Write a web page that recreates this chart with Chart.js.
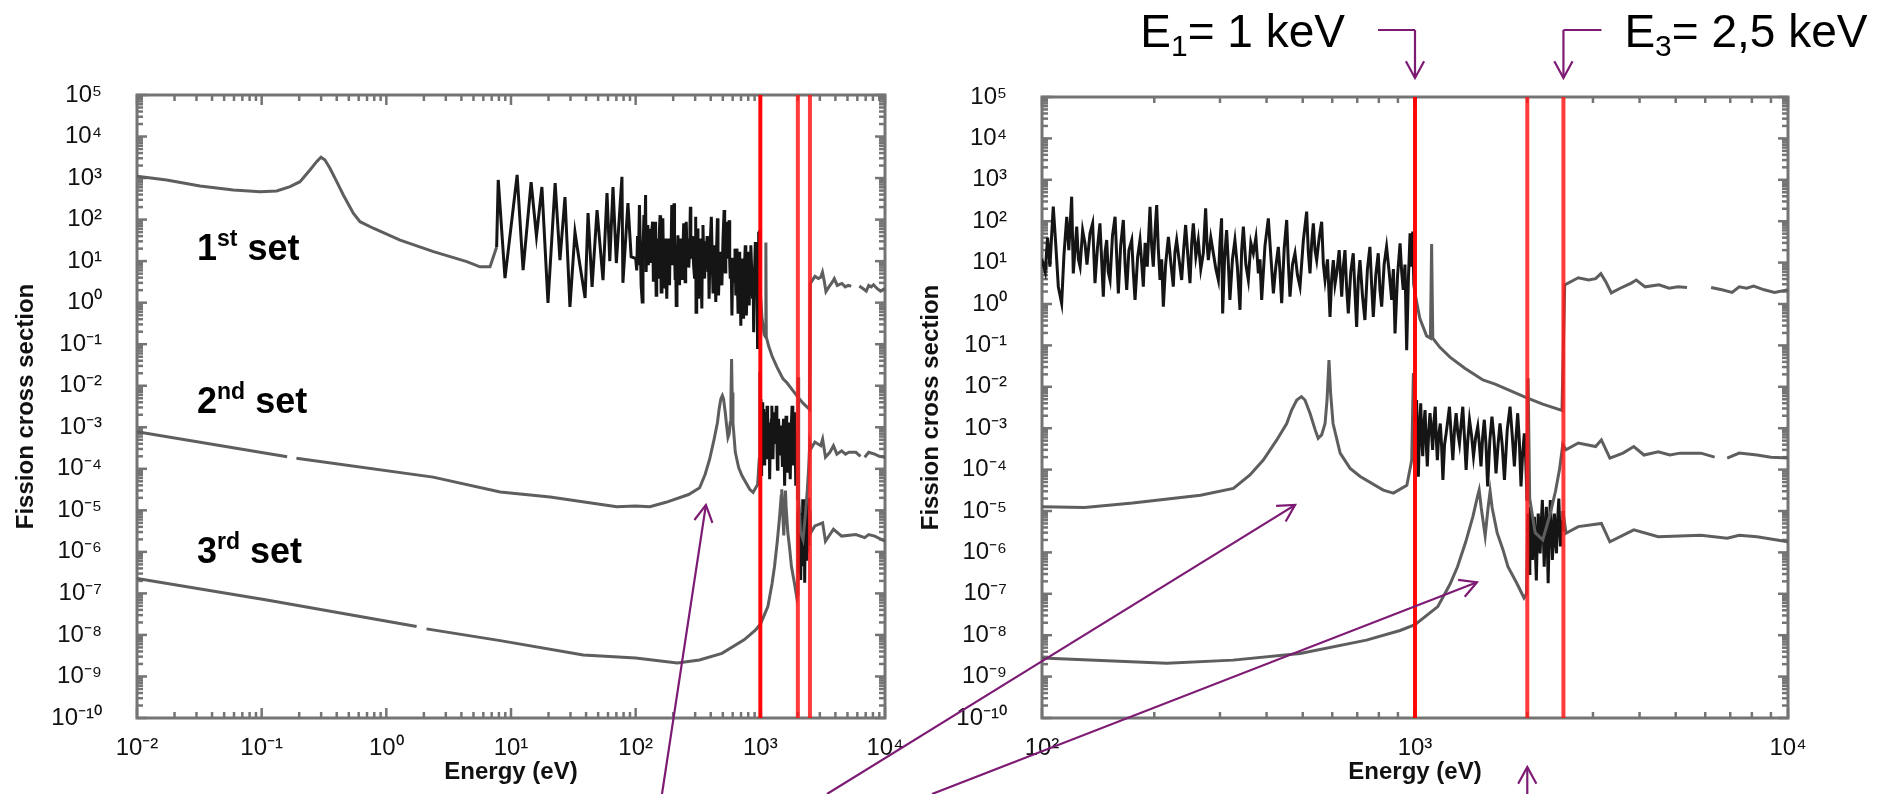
<!DOCTYPE html>
<html>
<head>
<meta charset="utf-8">
<script src="https://cdn.jsdelivr.net/npm/chart.js@4.4.1/dist/chart.umd.min.js"></script>
<style>
  html, body { margin: 0; padding: 0; background: #fff; }
  #wrap { position: relative; width: 1900px; height: 794px; overflow: hidden; background: #fff; }
  canvas { position: absolute; top: 0; }
  #left { left: 0; }
  #right { left: 900px; }
  #notes { position: absolute; left: 0; top: 0; }
</style>
</head>
<body>
<div id="wrap">
  <canvas id="left" width="920" height="794"></canvas>
  <canvas id="right" width="1000" height="794"></canvas>
  <svg id="notes" width="1900" height="794" xmlns="http://www.w3.org/2000/svg"></svg>
</div>
<script>
// Fission cross section of three resonance parameter sets, [energy (eV), cross section]
const set1 = [
  [0.01,1100],[0.0173,900],[0.032,644],[0.0592,516],[0.097,470],[0.132,488],[0.169,620],[0.203,818],
  [0.244,1560],[0.276,2480],[0.299,3170],[0.322,2720],[0.353,1720],[0.40,818],[0.452,391],[0.543,142],
  [0.615,89],[0.786,62],[1.29,32],[2.39,16.9],[4.42,9.7],[5.64,7.3],[6.79,7.3],[7.67,22],
  [7.9,900],[8.95,3.9],[11.2,1190],[12.5,6.1],[14.5,800],[16.0,40],[17.7,610],[19.8,0.98],[22.6,760],
  [24.7,10.6],[27.1,350],[29.7,0.79],[32.6,50],[35.5,9],[39.3,1.3],[41.5,144],[44.7,2.4],[49.0,170],
  [54.7,3.5],[58.9,437],[62.0,10],[65.8,610],[70.0,9],[77.6,1070],[79.0,3.0],[86.7,250],[92.0,12.8],
  [100,11.5],[102,6.0],[103.5,40],[105,7.96],[107.2,224],[108.8,30],[110.6,2.62],[112.9,1.04],
  [114.5,15],[116.5,128],[118,20],[120.1,391],[121.3,5.5],[123.9,74],[125.2,12],[126.5,8.0],[128.5,60],
  [130.4,29],[132,9],[134.5,51],[136.7,89],[138.7,3.2],[140.8,22],[143.0,89],[144.5,12],[146.0,1.5],
  [147.6,18],[149.1,35],[150.5,6],[152.2,3.8],[154.5,45],[157.0,128],[158.6,14],[160.2,1.81],
  [162.5,25],[165.2,107],[167,9],[168.7,2.18],[171,20],[174.0,35],[175.7,6],[177.6,1.25],[180.5,14],
  [183.1,35],[185,10],[186.9,2.62],[189,30],[191.5,8],[194.8,224],[196.8,25],[198.8,8.0],[201,60],
  [203.0,246],[205,22],[207.2,3.8],[209.3,12],[211.5,0.86],[214.5,9],[218.2,42],[221.5,10],
  [224.9,2.62],[227.2,18],[229.6,35],[233,12],[236.8,3.8],[239.7,20],[242.7,81],[246,15],[249.3,3.2],
  [252,30],[254.5,89],[258.5,14],[262.4,35],[266.5,7],[270.7,16.8],[272.6,60],[274.6,205],[277,28],
  [279.2,11.5],[283.5,40],[288,16.8],[292.5,7],[297,3.8],[300,30],[303,117],[305,0.59],[308.8,14],
  [312.6,61],[316,9],[319,1.25],[324,12],[329,35],[334,8],[339.5,0.72],[343,20],[346.6,74],[352,9],
  [357.4,3.8],[363,30],[368.6,16.8],[374.5,40],[380.2,5.5],[384,12],[388.1,1.25],[396,25],[404.4,117],
  [410.8,14],[417.2,1.81],[423.5,8],[430.1,24],[434.6,6],[439.1,1.04],[446,22],[452.9,107],[457.5,10],
  [462.2,1.5],[469.5,9],[476.7,16.8],[484,5],[491.7,2.62],[502,35],[512.3,170],[517.6,18],[523,5.5],
  [528.4,30],[533.9,89],[539.4,20],[545,11.5],[553.5,40],[562.1,97],[568,9],[573.8,3.8],[582.7,12],
  [591.8,0.49],[597.8,4],[604,11.5],[610.3,3],[616.6,5.5],[626.2,20],[636,1.5],[642.4,8],[649,20],
  [655.7,2.5],[662.5,0.59],[672.7,6],[683,16.8],[690.2,2],[697.5,0.28],[704.7,4],[712,11.5],[723,1.6],
  [734,0.41],[745.5,7],[757,24],[765,3],[773,0.49],[785,5],[797,16.8],[805.5,2.2],[814,0.86],
  [826.5,9],[839,24],[852.5,6],[866,1.25],[875,7],[884,0.195],[898,5],[912,29],[921,6],[930,2.18],
  [940,9],[950,0.077],[960,4],[970,51],[978,8],[986,56],[993,3],[1000,1.81],
  [1030,0.45],[1074,0.17],[1100,0.15],[1108,28],[1116,0.15],[1166,0.09],[1241,0.052],[1360,0.028],
  [1521,0.0146],[1640,0.0116],[1995,0.0054],[2200,0.0038],[2478,0.0027],
  [2520,2.9],[2740,4.3],[2920,3.8],[3050,4.1],[3150,5.4],[3250,3.4],[3360,1.85],[3550,2.4],[3800,3.2],
  [3920,3.8],[4140,2.6],[4510,2.9],[4800,2.4],[5070,2.6],[5360,2.5],[5700,null],[6220,2.5],[6650,2.2],
  [7080,1.9],[7400,2.6],[7750,2.4],[8090,2.7],[8630,2.2],[9210,1.9],[10000,2.2]
];
const set2 = [
  [0.01,7.8e-4],[0.16,1.95e-4],[0.175,null],[0.19,1.8e-4],[2.37,6.3e-5],[8.2,2.75e-5],[20.6,2.1e-5],
  [70.5,1.22e-5],[100,1.27e-5],[130,1.22e-5],[175,1.56e-5],[266,2.4e-5],[326,3.5e-5],[361,7.4e-5],
  [392,1.7e-4],[426,5.2e-4],[453,1.3e-3],[467,2.75e-3],[482,4.8e-3],[496,5.8e-3],[507,4.8e-3],
  [523,2.3e-3],[540,9.1e-4],[550,5.7e-4],[562,6.9e-4],[574,1.3e-3],[581,4.8e-3],[588,0.044],
  [594,6.9e-3],[603,1.3e-3],[630,2.5e-4],[670,1.07e-4],[713,6.8e-5],[822,3.2e-5],
  [875,2.7e-5],[951,4.2e-5],[980,1.7e-4],[990,0.0215],
  [1003,1.5e-3],[1010,4.8e-3],[1015,8e-4],[1021,6.7e-5],[1028,9e-4],[1036,4.0e-3],[1042,6e-4],
  [1049,2.1e-4],[1056,1.2e-3],[1064,2.75e-3],[1071,5e-4],[1079,1.2e-4],[1088,8e-4],[1097,2.3e-3],
  [1106,9e-4],[1115,3.0e-4],[1124,1.4e-3],[1133,3.3e-3],[1140,6e-4],[1148,1.7e-4],[1158,7e-4],
  [1169,1.3e-3],[1178,4e-4],[1188,5.6e-5],[1200,4e-4],[1212,7.5e-4],[1224,1.5e-3],[1237,3.3e-3],
  [1250,7e-4],[1263,1.7e-4],[1276,9e-4],[1289,2.3e-3],[1302,8e-4],[1316,4.3e-4],[1329,1.2e-3],
  [1343,3.3e-3],[1357,6e-4],[1371,9.8e-5],[1385,5e-4],[1400,1.6e-3],[1417,7e-4],[1435,2.1e-4],
  [1454,6e-4],[1473,1.1e-3],[1488,4e-4],[1503,1.2e-4],[1518,6e-4],[1534,1.6e-3],[1550,4e-4],
  [1566,3.9e-5],[1587,5e-4],[1608,1.9e-3],[1628,6e-4],[1649,8.1e-5],[1670,4e-4],[1690,1.3e-3],
  [1713,4e-4],[1737,5.6e-5],[1767,9e-4],[1798,3.3e-3],[1822,7e-4],[1847,1.2e-4],[1866,6e-4],
  [1885,2.3e-3],[1904,5e-4],[1924,3.9e-5],[1944,2.5e-4],[1964,7.5e-4],[1980,2e-4],[1997,1.8e-5],
  [2010,0.016],[2030,2e-5],[2100,3e-6],[2200,2e-6],[2300,8e-6],[2380,3e-5],[2440,1e-4],[2490,4e-4],
  [2540,3.0e-4],[2740,4.4e-4],[3050,3.6e-4],[3160,5.2e-4],[3330,1.9e-4],[3610,2.5e-4],[3860,3.6e-4],
  [4110,2.25e-4],[4490,2.7e-4],[4820,2.25e-4],[5140,2.5e-4],[5840,2.5e-4],[6360,2.0e-4],[6600,null],
  [6870,1.9e-4],[7400,2.5e-4],[8260,2.25e-4],[9000,2.0e-4],[10000,1.9e-4]
];
const set3 = [
  [0.01,2.3e-7],[0.11,6.9e-8],[1.75,1.6e-8],[1.9,null],[2.1,1.4e-8],[8.2,7.3e-9],[38,3.3e-9],
  [100,2.8e-9],[216,2.1e-9],[325,2.5e-9],[492,3.6e-9],[741,7.6e-9],[912,1.3e-8],[1000,1.8e-8],
  [1151,4.9e-8],[1241,1.7e-7],[1300,4.5e-7],[1368,1.8e-6],[1429,7.2e-6],[1470,2.2e-5],[1486,3.2e-5],
  [1505,1.2e-5],[1542,2.5e-6],[1570,1.2e-5],[1590,3.0e-5],[1610,1.2e-5],[1660,3e-6],[1722,1.15e-6],
  [1775,4.5e-7],[1875,1.8e-7],[1960,8e-8],[1990,1e-7],
  [2003,3e-6],[2010,8.7e-6],[2018,1.5e-6],[2025,3.1e-7],[2032,3e-6],[2040,1.26e-5],[2052,2e-6],
  [2065,6.6e-7],[2078,4e-6],[2090,7.2e-6],[2102,1.2e-6],[2115,2.1e-7],[2128,2.5e-6],[2140,8.7e-6],
  [2152,3e-6],[2165,9.5e-7],[2180,5e-6],[2195,1.85e-5],[2208,3e-6],[2220,4.5e-7],[2235,3e-6],
  [2250,1.26e-5],[2262,2e-6],[2275,1.8e-7],[2290,3e-6],[2305,1.85e-5],[2320,4e-6],[2335,6.6e-7],
  [2350,2.5e-6],[2365,8.7e-6],[2380,2e-6],[2395,9.5e-7],[2412,6e-6],[2430,2.0e-5],[2442,5e-6],
  [2455,1.4e-6],[2468,6e-6],[2480,3.5e-6],[2492,1e-5],
  [2540,2.9e-6],[2740,4.2e-6],[3160,5.0e-6],[3330,1.8e-6],[3860,3.5e-6],[4490,2.4e-6],[5840,2.6e-6],
  [6870,2.2e-6],[7400,2.6e-6],[8260,2.4e-6],[10000,1.8e-6]
];

// Resolved-resonance energy window of each set (eV), drawn darker
const resolvedRange = [[7.5, 1000], [1000, 2000], [2000, 2500]];

// Energy group boundaries (eV)
const boundaryE = [1000, 2000, 2500];
const boundaryColors = ['rgba(255,0,0,0.97)', 'rgba(255,25,25,0.85)', 'rgba(255,25,25,0.85)'];

// Decade exponents used for the axis labels
const leftXExp = [-2, -1, 0, 1, 2, 3, 4];
const rightXExp = [2, 3, 4];
const yExp = [5, 4, 3, 2, 1, 0, -1, -2, -3, -4, -5, -6, -7, -8, -9, -10];
const Y_MIN = 1e-10, Y_MAX = 1e5;

const FONT = "'Liberation Sans', Arial, Helvetica, sans-serif";
const PURPLE = '#7d1b74';
const SUP = {'-':'\u207B','0':'\u2070','1':'\u00B9','2':'\u00B2','3':'\u00B3','4':'\u2074',
             '5':'\u2075','6':'\u2076','7':'\u2077','8':'\u2078','9':'\u2079'};
const powLabel = v => '10' + String(Math.round(Math.log10(v))).split('').map(c => SUP[c]).join('');

// Frame with inward major/minor tick marks on all four sides
const framePlugin = {
  id: 'frame',
  beforeDatasetsDraw(chart) {
    const { ctx, chartArea: a, scales: { x, y } } = chart;
    const marks = sc => {
      const lo = Math.round(Math.log10(sc.min)), hi = Math.round(Math.log10(sc.max));
      const out = [];
      for (let d = lo; d < hi; d++) for (let m = 1; m < 10; m++) out.push({ v: m * Math.pow(10, d), major: m === 1 });
      out.push({ v: Math.pow(10, hi), major: true });
      return out;
    };
    const seg = (x1, y1, x2, y2) => { ctx.beginPath(); ctx.moveTo(x1, y1); ctx.lineTo(x2, y2); ctx.stroke(); };
    ctx.save();
    ctx.strokeStyle = '#747474';
    ctx.lineWidth = 2.5;
    for (const t of marks(x)) {
      const px = x.getPixelForValue(t.v), L = t.major ? 10 : 6;
      seg(px, a.bottom, px, a.bottom - L); seg(px, a.top, px, a.top + L);
    }
    for (const t of marks(y)) {
      const py = y.getPixelForValue(t.v), L = t.major ? 10 : 6;
      seg(a.left, py, a.left + L, py); seg(a.right, py, a.right - L, py);
    }
    ctx.lineWidth = 3;
    ctx.strokeRect(a.left, a.top, a.right - a.left, a.bottom - a.top);
    ctx.restore();
  }
};

// Smooth stretches in grey, resolved-resonance windows in near-black
const SMOOTH = '#5e5e5e', DENSE = '#151515';
const curve = (arr, range) => ({
  data: arr.map(([x, y]) => ({ x, y })),
  borderColor: SMOOTH, borderWidth: 3, pointRadius: 0, tension: 0, order: 1, spanGaps: false,
  segment: {
    borderColor: c => (c.p0.parsed.x >= range[0] && c.p1.parsed.x <= range[1]) ? DENSE : SMOOTH
  }
});

function panel(id, o) {
  const bounds = boundaryE.map((e, i) => ({
    data: [{ x: e, y: Y_MIN }, { x: e, y: Y_MAX }],
    borderColor: boundaryColors[i], borderWidth: 4, pointRadius: 0, order: 0
  }));
  const tickFont = { family: FONT, size: 24 };
  const titleFont = { family: FONT, size: 24, weight: 'bold' };
  return new Chart(document.getElementById(id), {
    type: 'line',
    data: { datasets: [...bounds, curve(set1, resolvedRange[0]), curve(set2, resolvedRange[1]), curve(set3, resolvedRange[2])] },
    options: {
      responsive: false, animation: false, devicePixelRatio: 1,
      layout: { padding: { left: 0, top: o.top, right: o.right, bottom: 0 } },
      plugins: { legend: { display: false }, tooltip: { enabled: false } },
      scales: {
        x: {
          type: 'logarithmic', min: o.xmin, max: o.xmax,
          afterFit: s => { s.height = 76; },
          afterBuildTicks: s => { s.ticks = o.xExp.map(e => ({ value: Math.pow(10, e) })); },
          grid: { display: false }, border: { display: false },
          ticks: { callback: powLabel, autoSkip: false, maxRotation: 0, padding: 8, font: tickFont, color: '#111' },
          title: { display: true, text: 'Energy (eV)', font: titleFont, color: '#111', padding: { top: 0, bottom: 7.6 } }
        },
        y: {
          type: 'logarithmic', min: Y_MIN, max: Y_MAX,
          afterFit: s => { s.width = o.yWidth; },
          afterBuildTicks: s => { s.ticks = yExp.map(e => ({ value: Math.pow(10, e) })); },
          grid: { display: false }, border: { display: false },
          ticks: { callback: powLabel, autoSkip: false, padding: 27, font: tickFont, color: '#111' },
          title: { display: true, text: 'Fission cross section', font: titleFont, color: '#111', padding: { top: o.titlePad, bottom: 0 } }
        }
      }
    },
    plugins: [framePlugin]
  });
}

const leftChart = panel('left', { xmin: 1e-2, xmax: 1e4, xExp: leftXExp, top: 95, right: 35, yWidth: 137, titlePad: 11.6 });
const rightChart = panel('right', { xmin: 1e2, xmax: 1e4, xExp: rightXExp, top: 97, right: 112, yWidth: 142, titlePad: 16.6 });

// ---- annotations ----
const svg = document.getElementById('notes');
const NS = 'http://www.w3.org/2000/svg';
function add(tag, attrs, parent = svg) {
  const n = document.createElementNS(NS, tag);
  for (const k in attrs) n.setAttribute(k, attrs[k]);
  parent.appendChild(n);
  return n;
}
function textWithShift(x, y, parts, attrs) {
  const t = add('text', Object.assign({ x, y, 'font-family': FONT, fill: '#000' }, attrs));
  for (const p of parts) {
    const s = add('tspan', p.size ? { 'font-size': p.size, dy: p.dy || 0 } : { dy: p.dy || 0 }, t);
    s.textContent = p.t;
  }
  return t;
}
const page = (chart, offX, e, s) => [offX + chart.scales.x.getPixelForValue(e), chart.scales.y.getPixelForValue(s)];
function arrow(x1, y1, x2, y2) {
  add('line', { x1, y1, x2, y2, stroke: PURPLE, 'stroke-width': 2.2 });
  const ang = Math.atan2(y2 - y1, x2 - x1), L = 19, A = 0.5;
  const p = s => `${x2 - L * Math.cos(ang + s * A)},${y2 - L * Math.sin(ang + s * A)}`;
  add('polyline', { points: `${p(1)} ${x2},${y2} ${p(-1)}`, fill: 'none', stroke: PURPLE, 'stroke-width': 2.2 });
}

// Group-boundary markers above the zoomed panel
const xE1 = 900 + rightChart.scales.x.getPixelForValue(boundaryE[0]);
const xE2 = 900 + rightChart.scales.x.getPixelForValue(boundaryE[1]);
const xE3 = 900 + rightChart.scales.x.getPixelForValue(boundaryE[2]);
add('polyline', { points: `${xE1 - 37},30 ${xE1},30`, fill: 'none', stroke: PURPLE, 'stroke-width': 2.2 });
arrow(xE1, 30, xE1, 78);
add('polyline', { points: `${xE3 + 38},30 ${xE3},30`, fill: 'none', stroke: PURPLE, 'stroke-width': 2.2 });
arrow(xE3, 30, xE3, 78);
arrow(xE2, 800, xE2, 767);

textWithShift(xE1 - 70, 47, [{ t: 'E' }, { t: '1', size: 30, dy: 9 }, { t: '= 1 keV', dy: -9 }],
  { 'font-size': 46, 'text-anchor': 'end' });
textWithShift(xE3 + 61, 47, [{ t: 'E' }, { t: '3', size: 30, dy: 9 }, { t: '= 2,5 keV', dy: -9 }],
  { 'font-size': 46 });

// Set labels
const setLabels = [['1', 'st', 260], ['2', 'nd', 413], ['3', 'rd', 563]];
for (const [n, suf, y] of setLabels) {
  textWithShift(197, y, [{ t: n }, { t: suf, size: 23, dy: -14 }, { t: ' set', dy: 14 }],
    { 'font-size': 36, 'font-weight': 'bold' });
}

// Pointers to the isolated resonances of the 2nd and 3rd sets
const [ax, ay] = page(leftChart, 0, 366, 1.35e-5);
arrow(662, 794, ax, ay);
const [bx, by] = page(rightChart, 900, 477, 1.4e-5);
arrow(827, 794, bx, by);
const [cx, cy] = page(rightChart, 900, 1466, 1.9e-7);
arrow(932, 794, cx, cy);
</script>
</body>
</html>
